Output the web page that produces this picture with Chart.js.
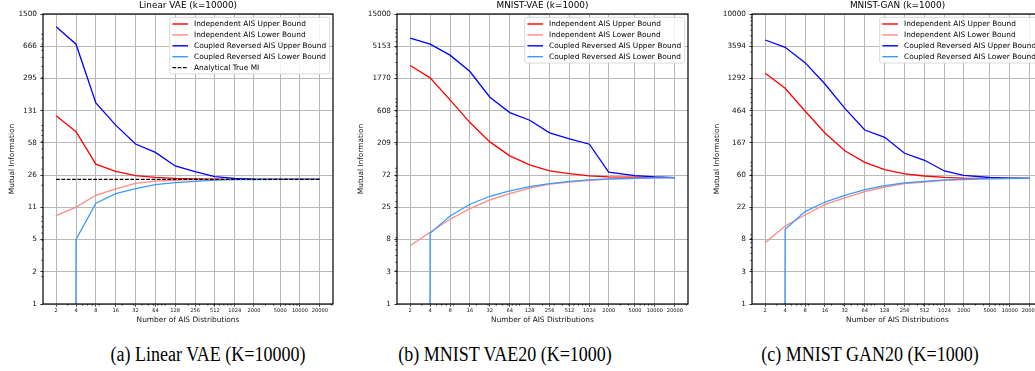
<!DOCTYPE html>
<html><head><meta charset="utf-8">
<script src="https://cdn.jsdelivr.net/npm/chart.js@4.4.1/dist/chart.umd.min.js"></script>
<style>
html,body{margin:0;padding:0;background:#fff;overflow:hidden;width:1035px;height:371px;}
#wrap{position:relative;width:1035px;height:371px;overflow:hidden;background:#fff;}
canvas{position:absolute;top:0;}
.cap{position:absolute;top:342px;font-family:"Liberation Serif","Times New Roman",serif;font-size:20px;line-height:24px;white-space:nowrap;color:#000;transform:translateX(-50%) scaleX(0.9);transform-origin:center;}
</style></head><body>
<div id="wrap">
<canvas id="ca" width="345" height="335" style="left:0px"></canvas>
<canvas id="cb" width="350" height="335" style="left:350px"></canvas>
<canvas id="cc" width="350" height="335" style="left:705px"></canvas>
<div class="cap" style="left:208px">(a) Linear VAE (K=10000)</div>
<div class="cap" style="left:505px">(b) MNIST VAE20 (K=1000)</div>
<div class="cap" style="left:870px">(c) MNIST GAN20 (K=1000)</div>
</div>
<script>
// ---------------- data ----------------
const xCats = [2, 4, 8, 16, 32, 64, 128, 256, 512, 1024, 2000, 5000, 10000, 20000];
const xTickLabels = ['2','4','8','16','32','64','128','256','512','1024','2000','5000','10000','20000'];
// non-positive in the source (log axis clips it): drawn as a tiny positive value
const CLIP = 1e-100;

// (a) Linear VAE
const aIndUpper  = [115, 77, 34, 28.4, 25.5, 24.4, 23.8, 23.5, 23.3, 23.2, 23.2, 23.2, 23.2, 23.2];
const aIndLower  = [9.3, 11.5, 15.5, 18.2, 21.0, 22.2, 22.7, 23.0, 23.1, 23.2, 23.2, 23.2, 23.2, 23.2];
const aCoupUpper = [1090, 700, 159, 91, 56.5, 45.8, 32.5, 28.1, 24.8, 23.7, 23.3, 23.2, 23.2, 23.2];
const aCoupLower = [CLIP, 5.1, 12.7, 16.2, 18.3, 20.3, 21.3, 22.0, 22.7, 23.0, 23.1, 23.2, 23.2, 23.2];
const aTrueMI = 23.2;
const aYLabels = ['1','2','5','11','26','58','131','295','666','1500'];
const aYMax = 1500;

// (b) MNIST VAE
const bIndUpper  = [2716, 1805, 870, 410, 216, 136, 101, 82.5, 75.5, 69.9, 67.9, 67, 66.5, 66];
const bIndLower  = [6.9, 10.8, 16.6, 23.6, 31.5, 38.8, 46.5, 53.1, 57.0, 60.5, 63.0, 64.5, 65.5, 66];
const bCoupUpper = [6735, 5521, 3831, 2227, 951, 571, 443, 291, 239, 200, 79, 70.6, 67.5, 66];
const bCoupLower = [CLIP, 10.4, 18.5, 27.3, 35.6, 42.5, 49, 54.1, 58.5, 61.5, 63.2, 64.6, 65.5, 66];
const bYLabels = ['1','3','8','25','72','209','608','1770','5153','15000'];
const bYMax = 15000;

// (c) MNIST GAN
const cIndUpper  = [1521, 944, 459, 228, 130, 90, 71.2, 62.3, 58.3, 55.9, 54.6, 54.2, 54.1, 54];
const cIndLower  = [7.0, 11.9, 16.9, 23.7, 29, 35.4, 41.1, 45.7, 48.2, 50.8, 52, 53.3, 53.8, 54];
const cCoupUpper = [4378, 3470, 2131, 1083, 500, 251, 199, 120, 96, 68.3, 59.6, 55.6, 54.5, 54];
const cCoupLower = [CLIP, 10.7, 18.8, 25.5, 31.6, 37.7, 42.8, 46.7, 49, 51.5, 52.5, 53.5, 53.9, 54];
const cYLabels = ['1','3','8','22','60','167','464','1292','3594','10000'];
const cYMax = 10000;

const seriesLabels = ['Independent AIS Upper Bound','Independent AIS Lower Bound','Coupled Reversed AIS Upper Bound','Coupled Reversed AIS Lower Bound','Analytical True MI'];
// --------------------------------------

const COLORS = ['#ff0000', '#ff8a84', '#0000ff', '#3a9bff', '#000000'];
const FONT = '"DejaVu Sans", Verdana, sans-serif';
const xMin = 2 * Math.pow(20000 / 2, -0.05);
const xMax = 20000 * Math.pow(20000 / 2, 0.05);

function minorTicks(min, max, majors) {
  const out = [];
  for (let e = Math.floor(Math.log10(min)); e <= Math.ceil(Math.log10(max)); e++) {
    for (let k = 2; k <= 9; k++) {
      const v = k * Math.pow(10, e);
      if (v < min * 0.9999 || v > max * 1.0001) continue;
      if (majors.some(m => Math.abs(Math.log10(m) - Math.log10(v)) < 1e-6)) continue;
      out.push(v);
    }
  }
  return out;
}

function decorPlugin(p, yTickVals) {
  return {
    id: 'decor',
    afterDraw(chart) {
      const {ctx, chartArea: ca, scales} = chart;
      const xs = scales.x, ys = scales.y;
      ctx.save();
      ctx.strokeStyle = '#000'; ctx.lineWidth = 0.7;
      minorTicks(xMin, xMax, xCats).forEach(v => {
        const px = xs.getPixelForValue(v);
        ctx.beginPath(); ctx.moveTo(px, ca.bottom); ctx.lineTo(px, ca.bottom + 1.7); ctx.stroke();
      });
      minorTicks(1, p.yMax, yTickVals).forEach(v => {
        const py = ys.getPixelForValue(v);
        ctx.beginPath(); ctx.moveTo(ca.left, py); ctx.lineTo(ca.left - 1.7, py); ctx.stroke();
      });
      ctx.lineWidth = 1.2; ctx.strokeStyle = '#000';
      ctx.strokeRect(ca.left, ca.top, ca.right - ca.left, ca.bottom - ca.top);
      ctx.fillStyle = '#000';
      ctx.font = '8.9px ' + FONT;
      ctx.textAlign = 'center'; ctx.textBaseline = 'middle';
      ctx.fillText(p.title, (ca.left + ca.right) / 2, ca.top - 8);
      const ds = chart.data.datasets;
      const n = ds.length;
      const bw = 160, bh = 13 + (n - 1) * 10.9;
      const bx = ca.right - 3.3 - bw, by = ca.top + 3.3;
      ctx.beginPath();
      ctx.roundRect(bx, by, bw, bh, 2);
      ctx.fillStyle = 'rgba(255,255,255,0.85)';
      ctx.fill();
      ctx.lineWidth = 0.8; ctx.strokeStyle = '#d0d0d0';
      ctx.stroke();
      ctx.font = '7.4px ' + FONT;
      ctx.textAlign = 'left';
      ds.forEach((d, i) => {
        const cy = by + 6.7 + i * 10.9;
        ctx.beginPath();
        ctx.setLineDash(d.borderDash || []);
        ctx.strokeStyle = d.borderColor; ctx.lineWidth = 1.4;
        ctx.moveTo(bx + 2.7, cy); ctx.lineTo(bx + 18.3, cy); ctx.stroke();
        ctx.setLineDash([]);
        ctx.fillStyle = '#000';
        ctx.fillText(d.label, bx + 24.3, cy + 0.3);
      });
      ctx.restore();
    }
  };
}

function makePanel(id, p) {
  const series = [p.indUpper, p.indLower, p.coupUpper, p.coupLower];
  const datasets = series.map((vals, i) => ({
    label: seriesLabels[i],
    data: xCats.map((x, j) => ({x: x, y: vals[j]})),
    borderColor: COLORS[i]
  }));
  if (p.trueMI !== undefined) {
    datasets.push({label: seriesLabels[4], data: xCats.map(x => ({x: x, y: p.trueMI})), borderColor: COLORS[4], borderDash: [3.7, 1.6]});
  }
  datasets.forEach((d, i) => {
    d.order = datasets.length - i;
    d.borderWidth = 1.3; d.pointRadius = 0; d.pointHoverRadius = 0;
    d.fill = false; d.tension = 0; d.spanGaps = true;
  });
  const nY = p.yLabels.length;
  const yTickVals = p.yLabels.map((_, i) => Math.pow(p.yMax, i / (nY - 1)));
  new Chart(document.getElementById(id), {
    type: 'line',
    data: {datasets},
    options: {
      responsive: false, animation: false, devicePixelRatio: 1,
      events: [],
      layout: {padding: {left: 0, top: 14, right: 12, bottom: 0}},
      plugins: {legend: {display: false}, tooltip: {enabled: false}, title: {display: false}},
      scales: {
        x: {
          type: 'logarithmic', min: xMin, max: xMax, position: 'bottom', offset: false,
          afterBuildTicks: s => { s.ticks = xCats.map(v => ({value: v})); },
          afterFit: s => { s.height = 31; },
          ticks: {autoSkip: false, maxRotation: 0, minRotation: 0, padding: 1.1,
                  font: {family: FONT, size: 5.1}, color: '#111',
                  callback: (v, i) => xTickLabels[i]},
          grid: {color: '#b8b8b8', lineWidth: 1, tickLength: 2.6, tickColor: '#000', tickWidth: 0.8, drawTicks: true},
          border: {display: false},
          title: {display: true, text: 'Number of AIS Distributions', color: '#111',
                  font: {family: FONT, size: 7.4}, padding: {top: 0, bottom: 10.56}}
        },
        y: {
          type: 'logarithmic', min: 1, max: p.yMax, position: 'left',
          afterBuildTicks: s => { s.ticks = yTickVals.map(v => ({value: v})); },
          afterFit: s => { s.width = p.yAxisW; },
          ticks: {autoSkip: false, padding: 3.4, font: {family: FONT, size: 7.3}, color: '#111',
                  callback: (v, i) => p.yLabels[i]},
          grid: {color: '#b8b8b8', lineWidth: 1, tickLength: 2.6, tickColor: '#000', tickWidth: 0.8, drawTicks: true},
          border: {display: false},
          title: {display: true, text: 'Mutual Information', color: '#111',
                  font: {family: FONT, size: 7.4}, padding: {top: p.yTitlePad, bottom: 0}}
        }
      }
    },
    plugins: [decorPlugin(p, yTickVals)]
  });
}

makePanel('ca', {title: 'Linear VAE (k=10000)', indUpper: aIndUpper, indLower: aIndLower,
  coupUpper: aCoupUpper, coupLower: aCoupLower, trueMI: aTrueMI, yLabels: aYLabels, yMax: aYMax,
  yAxisW: 43, yTitlePad: 7.26});
makePanel('cb', {title: 'MNIST-VAE (k=1000)', indUpper: bIndUpper, indLower: bIndLower,
  coupUpper: bCoupUpper, coupLower: bCoupLower, yLabels: bYLabels, yMax: bYMax,
  yAxisW: 47, yTitlePad: 6.56});
makePanel('cc', {title: 'MNIST-GAN (k=1000)', indUpper: cIndUpper, indLower: cIndLower,
  coupUpper: cCoupUpper, coupLower: cCoupLower, yLabels: cYLabels, yMax: cYMax,
  yAxisW: 47, yTitlePad: 7.26});
</script>
</body></html>
